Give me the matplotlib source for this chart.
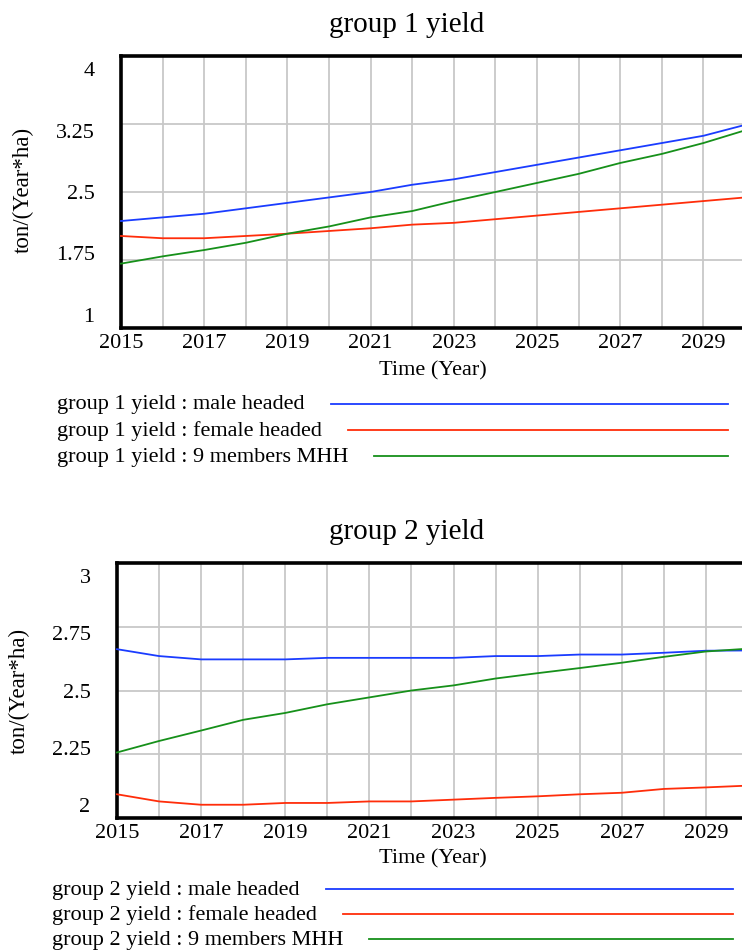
import matplotlib
matplotlib.use("Agg")
import matplotlib.pyplot as plt
import matplotlib.transforms as mtransforms
from matplotlib.lines import Line2D

plt.rcParams['font.family'] = ['Liberation Serif', 'DejaVu Serif']

years = list(range(2015, 2031))

# group 1 yield (ton/(Year*ha))
g1_male = [2.18, 2.22, 2.26, 2.32, 2.38, 2.44, 2.50, 2.58, 2.64, 2.72,
           2.80, 2.88, 2.96, 3.04, 3.12, 3.24]
g1_female = [2.015, 1.99, 1.99, 2.015, 2.04, 2.07, 2.10, 2.14, 2.16, 2.20,
             2.24, 2.28, 2.32, 2.36, 2.40, 2.44]
g1_mhh9 = [1.71, 1.79, 1.86, 1.94, 2.04, 2.12, 2.22, 2.29, 2.40, 2.50,
           2.60, 2.70, 2.82, 2.92, 3.04, 3.18]

# group 2 yield (ton/(Year*ha))
g2_male = [2.662, 2.635, 2.622, 2.622, 2.622, 2.628, 2.628, 2.628, 2.628, 2.635,
           2.635, 2.641, 2.641, 2.648, 2.656, 2.657]
g2_female = [2.093, 2.065, 2.052, 2.052, 2.059, 2.059, 2.065, 2.065, 2.072, 2.079,
             2.085, 2.093, 2.099, 2.114, 2.120, 2.127]
g2_mhh9 = [2.257, 2.302, 2.343, 2.385, 2.412, 2.446, 2.473, 2.500, 2.520, 2.547,
           2.568, 2.588, 2.609, 2.632, 2.653, 2.664]

g1_ticks = [1, 1.75, 2.5, 3.25, 4]
g1_labels = ['1', '1.75', '2.5', '3.25', '4']
g2_ticks = [2, 2.25, 2.5, 2.75, 3]
g2_labels = ['2', '2.25', '2.5', '2.75', '3']
x_ticks = [2015, 2017, 2019, 2021, 2023, 2025, 2027, 2029]

series_names = ['male headed', 'female headed', '9 members MHH']
colors = ['#1a3cff', '#ff2d0a', '#16901a']

W, H = 742, 952
fig = plt.figure(figsize=(W / 100, H / 100), dpi=100)


def px(x0, y0, x1, y1):
    # pixel box (left, top, right, bottom) -> figure fraction rect
    return [x0 / W, 1 - y1 / H, (x1 - x0) / W, (y1 - y0) / H]


def make_panel(rect, title, title_y, ylab_xy, xlab_y, data, ticks, labels,
               legend_x, legend_rows, line_end, name):
    ax = fig.add_axes(rect)
    for vals, c in zip(data, colors):
        ax.plot(years, vals, color=c, lw=1.3, zorder=3, clip_on=False)
    ax.set_xlim(2015, 2030)
    ax.set_ylim(ticks[0], ticks[-1])
    ax.set_xticks(years, minor=True)
    ax.set_xticks(x_ticks)
    ax.set_yticks(ticks)
    ax.set_yticklabels(labels)
    ax.grid(True, which='both', axis='x', color='#c8c8c8', lw=1.3, zorder=1)
    ax.grid(True, which='major', axis='y', color='#c8c8c8', lw=1.3, zorder=1)
    ax.tick_params(which='both', length=0)
    ax.tick_params(axis='x', labelsize=16, pad=4)
    ax.tick_params(axis='y', labelsize=16, pad=19)
    for sp in ['left', 'top', 'bottom']:
        ax.spines[sp].set_linewidth(2.6)
    ax.spines['right'].set_visible(False)

    # pull the end labels inward, spreading the rest evenly between them
    mid = (ticks[0] + ticks[-1]) / 2
    half = (ticks[-1] - ticks[0]) / 2
    for v, lab in zip(ticks, ax.get_yticklabels()):
        dy = -(v - mid) / half * 13 / 100
        lab.set_transform(lab.get_transform() +
                          mtransforms.ScaledTranslation(0, dy, fig.dpi_scale_trans))

    fig.text(407 / W, 1 - title_y / H, title, ha='center', va='center', fontsize=21)
    fig.text(ylab_xy[0] / W, 1 - ylab_xy[1] / H, 'ton/(Year*ha)', rotation=90,
             ha='center', va='center', fontsize=16.5)
    fig.text(433 / W, 1 - xlab_y / H, 'Time (Year)', ha='center', va='center',
             fontsize=16)

    renderer = fig.canvas.get_renderer()
    for s, c, ry in zip(series_names, colors, legend_rows):
        t = fig.text(legend_x / W, 1 - ry / H, f'{name} : {s}', ha='left',
                     va='center', fontsize=16)
        bb = t.get_window_extent(renderer)
        x0 = (bb.x1 + 26) / W
        fig.add_artist(Line2D([x0, line_end / W], [1 - (ry - 1) / H] * 2,
                              transform=fig.transFigure, color=c, lw=1.3))
    return ax


make_panel(px(121, 56, 745, 328), 'group 1 yield', 25, (23, 190), 371,
           [g1_male, g1_female, g1_mhh9], g1_ticks, g1_labels,
           57, [405, 431, 457], 728, 'group 1 yield')
make_panel(px(117, 563, 748, 818), 'group 2 yield', 532, (19, 691), 859,
           [g2_male, g2_female, g2_mhh9], g2_ticks, g2_labels,
           52, [890, 915, 940], 733, 'group 2 yield')

fig.savefig('out.png', dpi=100)
